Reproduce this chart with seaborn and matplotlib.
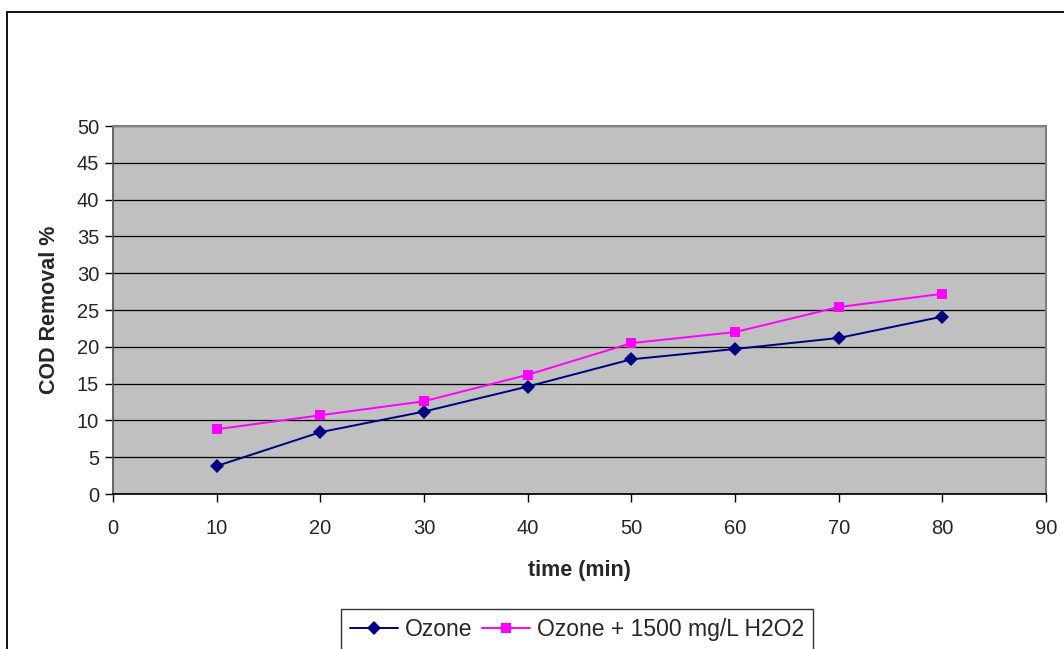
import matplotlib
matplotlib.use("Agg")
import matplotlib.pyplot as plt
import seaborn as sns
import pandas as pd
from matplotlib.patches import Rectangle

time_min = [10, 20, 30, 40, 50, 60, 70, 80]
ozone = [3.8, 8.4, 11.2, 14.6, 18.3, 19.7, 21.2, 24.1]
ozone_h2o2 = [8.8, 10.7, 12.6, 16.2, 20.5, 22.0, 25.4, 27.2]
series_names = ["Ozone", "Ozone + 1500 mg/L H2O2"]
x_ticks = [0, 10, 20, 30, 40, 50, 60, 70, 80, 90]
y_ticks = [0, 5, 10, 15, 20, 25, 30, 35, 40, 45, 50]

df = pd.DataFrame({
    "time": time_min * 2,
    "value": ozone + ozone_h2o2,
    "series": [series_names[0]] * len(time_min) + [series_names[1]] * len(time_min),
})

sns.set_theme(style="white")
plt.rcParams["font.family"] = ["Liberation Sans", "DejaVu Sans"]

fig = plt.figure(figsize=(10.64, 6.49), dpi=100)
ax = fig.add_axes([113 / 1064, 1 - 494 / 649, (1046 - 113) / 1064, (494 - 126) / 649])

# figure border (extends beyond right/bottom edges as in reference)
fig.patches.append(Rectangle((7 / 1064, -0.1), 1.2, 1 - 12.5 / 649 + 0.1,
                             transform=fig.transFigure, fill=False,
                             edgecolor="black", linewidth=1.3, zorder=0))

ax.set_facecolor("#C0C0C0")
sns.lineplot(data=df, x="time", y="value", hue="series", style="series",
             hue_order=series_names, style_order=series_names,
             palette={series_names[0]: "#000080", series_names[1]: "#FF00FF"},
             markers={series_names[0]: "D", series_names[1]: "s"},
             dashes=False, markersize=7, linewidth=1.4, markeredgewidth=0,
             ax=ax, zorder=3)

ax.set_xlim(0, 90)
ax.set_ylim(0, 50)
ax.set_xticks(x_ticks)
ax.set_yticks(y_ticks)
ax.yaxis.grid(True, color="black", linewidth=0.9)
ax.set_axisbelow(True)
for s in ["top", "right"]:
    ax.spines[s].set_color("#808080")
    ax.spines[s].set_linewidth(1.5)
ax.spines["left"].set_color("#555555")
ax.spines["bottom"].set_color("black")
ax.tick_params(axis="both", direction="out", length=6, width=1, color="black",
               labelsize=14.5, pad=4, bottom=True, left=True)
ax.tick_params(axis="x", pad=12)
ax.set_xlabel("time (min)", fontsize=15.5, fontweight="bold", labelpad=16)
ax.set_ylabel("COD Removal %", fontsize=15.5, fontweight="bold", labelpad=12)

leg = ax.legend(loc="upper center", bbox_to_anchor=(577 / 1064, 1 - 609 / 649),
                bbox_transform=fig.transFigure, ncol=2, frameon=True,
                fontsize=16.5, handlelength=2.1, columnspacing=0.45,
                handletextpad=0.28, borderpad=0.4, borderaxespad=0,
                fancybox=False)
leg.get_frame().set_edgecolor("black")
leg.get_frame().set_linewidth(1.0)

fig.savefig("out.png", dpi=100)
